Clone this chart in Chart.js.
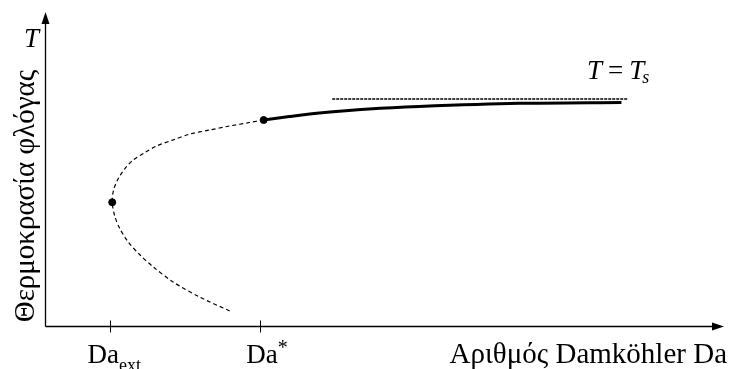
<!DOCTYPE html>
<html>
<head>
<meta charset="utf-8">
<script src="https://cdn.jsdelivr.net/npm/chart.js@4/dist/chart.umd.min.js"></script>
<style>
  html, body { margin: 0; padding: 0; background: #fff; }
  #wrap { width: 729px; height: 369px; }
</style>
</head>
<body>
<div id="wrap"><canvas id="chart" width="729" height="369"></canvas></div>
<script>
// S-curve (arbitrary units 0..10 on both axes)
const lowerX = [2.72, 2.28, 1.88, 1.59, 1.40, 1.22, 1.10, 1.03, 0.99, 1.01, 1.08, 1.18, 1.30, 1.47, 1.64, 1.88, 2.13, 2.42, 2.72, 3.01, 3.22];
const lowerY = [0.48, 0.92, 1.41, 1.89, 2.26, 2.69, 3.11, 3.48, 3.94, 4.33, 4.70, 5.02, 5.29, 5.52, 5.73, 5.92, 6.11, 6.24, 6.37, 6.48, 6.56];
const upperX = [3.22, 3.60, 4.04, 4.77, 5.51, 6.98, 8.49];
const upperY = [6.56, 6.67, 6.78, 6.91, 6.99, 7.09, 7.12];
const tsX = [4.23, 8.59];
const tsY = [7.23, 7.23];
const markX = [0.99, 3.22];
const markY = [3.94, 6.56];
const tickValues = [0.95, 3.17];
const tickNames = ["ext", "*"];

const pts = (xs, ys) => xs.map((x, i) => ({ x, y: ys[i] }));
const serif = '"Liberation Serif", "DejaVu Serif", serif';

const axesPlugin = {
  id: "axes",
  afterDraw(chart) {
    const ctx = chart.ctx;
    const a = chart.chartArea;
    const xs = chart.scales.x;
    const x0 = a.left + 0.5, y0 = a.bottom + 0.5;
    ctx.save();
    ctx.strokeStyle = "#000";
    ctx.fillStyle = "#000";
    ctx.lineWidth = 1.3;
    ctx.beginPath();
    ctx.moveTo(x0, y0);
    ctx.lineTo(x0, a.top + 6);
    ctx.moveTo(x0, y0);
    ctx.lineTo(a.right - 6, y0);
    ctx.stroke();
    // arrow heads
    ctx.beginPath();
    ctx.moveTo(x0, a.top);
    ctx.lineTo(x0 - 4, a.top + 12);
    ctx.lineTo(x0 + 4, a.top + 12);
    ctx.closePath();
    ctx.fill();
    ctx.beginPath();
    ctx.moveTo(a.right, y0);
    ctx.lineTo(a.right - 12, y0 - 4);
    ctx.lineTo(a.right - 12, y0 + 4);
    ctx.closePath();
    ctx.fill();
    // ticks
    ctx.lineWidth = 1;
    tickValues.forEach((v) => {
      const px = Math.round(xs.getPixelForValue(v)) + 0.5;
      ctx.beginPath();
      ctx.moveTo(px, y0 - 6);
      ctx.lineTo(px, y0 + 6);
      ctx.stroke();
    });
    // tick labels
    ctx.textBaseline = "alphabetic";
    ctx.textAlign = "left";
    const p0 = xs.getPixelForValue(tickValues[0]);
    const p1 = xs.getPixelForValue(tickValues[1]);
    ctx.font = "27px " + serif;
    ctx.fillText("Da", p0 - 22, 363);
    let w = ctx.measureText("Da").width;
    ctx.font = "18px " + serif;
    ctx.fillText(tickNames[0], p0 - 22 + w, 371);
    ctx.font = "27px " + serif;
    ctx.fillText("Da", p1 - 14, 363);
    ctx.font = "20px " + serif;
    ctx.fillText(tickNames[1], p1 - 14 + w, 354);
    // axis titles
    ctx.font = "29px " + serif;
    ctx.textAlign = "right";
    ctx.fillText("Αριθμός Damköhler Da", 727, 363);
    ctx.font = "italic 27px " + serif;
    ctx.textAlign = "left";
    ctx.fillText("T", 24, 47);
    ctx.save();
    ctx.translate(26, 196);
    ctx.rotate(-Math.PI / 2);
    ctx.font = "29px " + serif;
    ctx.textAlign = "center";
    ctx.textBaseline = "middle";
    ctx.fillText("Θερμοκρασία φλόγας", 0, 0);
    ctx.restore();
    // T = Ts
    let tx = 587;
    const ty = 79;
    ctx.font = "italic 27px " + serif;
    ctx.fillText("T", tx, ty);
    tx += ctx.measureText("T").width + 6;
    ctx.font = "27px " + serif;
    ctx.fillText("=", tx, ty);
    tx += ctx.measureText("=").width + 6;
    ctx.font = "italic 27px " + serif;
    ctx.fillText("T", tx, ty);
    tx += ctx.measureText("T").width - 2;
    ctx.font = "italic 18px " + serif;
    ctx.fillText("s", tx, ty + 4);
    ctx.restore();
  }
};

new Chart(document.getElementById("chart"), {
  type: "scatter",
  data: {
    datasets: [
      {
        label: "lower",
        data: pts(lowerX, lowerY),
        showLine: true,
        borderColor: "#000",
        borderWidth: 1.2,
        borderDash: [4, 3],
        tension: 0.3,
        pointRadius: 0
      },
      {
        label: "upper",
        data: pts(upperX, upperY),
        showLine: true,
        borderColor: "#000",
        borderWidth: 3,
        tension: 0.3,
        pointRadius: 0
      },
      {
        label: "Ts",
        data: pts(tsX, tsY),
        showLine: true,
        borderColor: "#000",
        borderWidth: 1.4,
        borderDash: [3, 1],
        pointRadius: 0
      },
      {
        label: "marks",
        data: pts(markX, markY),
        showLine: false,
        pointRadius: 3.5,
        pointBackgroundColor: "#000",
        pointBorderColor: "#000"
      }
    ]
  },
  options: {
    responsive: false,
    animation: false,
    layout: { padding: { left: 45, right: 3, top: 12, bottom: 43 } },
    plugins: { legend: { display: false }, tooltip: { enabled: false } },
    scales: {
      x: { type: "linear", min: 0, max: 10, display: false },
      y: { type: "linear", min: 0, max: 10, display: false }
    }
  },
  plugins: [axesPlugin]
});
</script>
</body>
</html>
